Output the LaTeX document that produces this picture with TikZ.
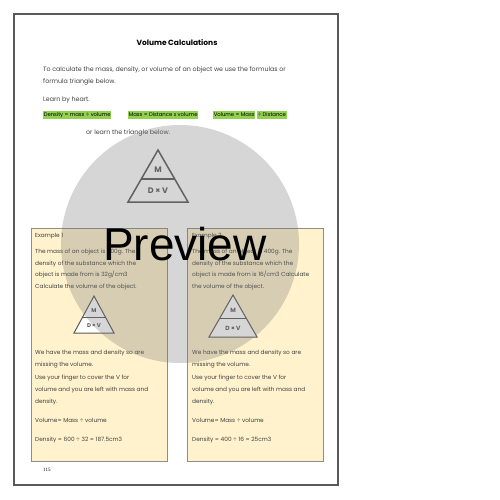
\documentclass[tikz,border=0pt]{standalone}
\usepackage{fontspec}
\setmainfont{Poppins}
\newfontfamily\prevfont{Liberation Sans}
\newfontfamily\pgnumfont{Liberation Serif}
\usetikzlibrary{calc}

\definecolor{framegray}{HTML}{595959}
\definecolor{txtgray}{HTML}{404040}
\definecolor{hlgreen}{HTML}{92D050}
\definecolor{panelfill}{HTML}{FFF2CC}
\definecolor{paneldraw}{HTML}{8C8C8C}
\definecolor{trigray}{HTML}{595959}
\definecolor{veilgray}{HTML}{787878}

\tikzset{
  bodytext/.style={anchor=base west, inner sep=0pt, text=txtgray,
    font=\fontsize{6.3}{7}\selectfont},
  boxtext/.style={bodytext, font=\fontsize{5.8}{7}\selectfont},
  hl/.style={bodytext, text=black, fill=hlgreen, inner xsep=0.6pt,
    inner ysep=0.6pt, text height=5pt, text depth=1.6pt,
    font=\fontsize{5.3}{6}\selectfont},
  panel/.style={draw=paneldraw, fill=panelfill, line width=0.8pt},
  tri/.style={draw=trigray, fill=white, line join=miter},
  trilabel/.style={inner sep=0pt, text=trigray, font=\fontsize{8}{9}\selectfont\bfseries},
}

\begin{document}
\begin{tikzpicture}[x=1pt,y=-1pt]
\useasboundingbox (0,0) rectangle (500,500);

% page
\draw[framegray, line width=1.2pt] (14,14) rectangle (338,485);

\node[bodytext, anchor=base, text=black, font=\fontsize{7.5}{9}\selectfont\bfseries] (title) at (177,46) {Volume Calculations};

\node[bodytext] (intro1) at (43,72) {To calculate the mass, density, or volume of an object we use the formulas or};
\node[bodytext] (intro2) at (43,84) {formula triangle below.};
\node[bodytext] (learn) at (43,102) {Learn by heart.};

% formulas
\node[hl] (f1) at (43,117) {Density = mass ÷ volume};
\node[hl] (f2) at (128,117) {Mass = Distance x volume};
\node[hl] (f3) at (213,117) {Volume = Mass};
\node[hl] (f4) at (257,117) {÷ Distance};

\node[bodytext] (orlearn) at (86,135) {or learn the triangle below.};

% big triangle
\coordinate (A0) at (158,150);
\coordinate (L0) at (128,202);
\coordinate (R0) at (188,202);
\draw[tri, line width=1.5pt] (A0) -- (L0) -- (R0) -- cycle;
\draw[trigray, line width=1.5pt] ($(A0)!0.56!(L0)$) -- ($(A0)!0.56!(R0)$);
\node[trilabel] (m0) at (158,170) {M};
\node[trilabel] (dv0) at (158,191) {D × V};

% example boxes
\draw[panel] (31,228) rectangle (167,461);
\draw[panel] (187,228) rectangle (323,461);

% box 1
\node[boxtext] (e1) at (35,237) {Example 1};
\node[boxtext] (e1a) at (35,253) {The mass of an object is 600g. The};
\node[boxtext] (e1b) at (35,265) {density of the substance which the};
\node[boxtext] (e1c) at (35,276) {object is made from is 32g/cm3};
\node[boxtext] (e1d) at (35,288) {Calculate the volume of the object.};

\coordinate (A1) at (94,296);
\coordinate (L1) at (74,333);
\coordinate (R1) at (114,333);
\draw[tri, line width=1pt] (A1) -- (L1) -- (R1) -- cycle;
\draw[trigray, line width=1pt] ($(A1)!0.59!(L1)$) -- ($(A1)!0.59!(R1)$);
\node[trilabel, font=\fontsize{5.5}{6}\selectfont\bfseries] (m1) at (94,311) {M};
\node[trilabel, font=\fontsize{5.5}{6}\selectfont\bfseries] (dv1) at (94,326) {D × V};

\node[boxtext] (e1e) at (35,354) {We have the mass and density so are};
\node[boxtext] (e1f) at (35,366) {missing the volume.};
\node[boxtext] (e1g) at (35,379) {Use your finger to cover the V for};
\node[boxtext] (e1h) at (35,391) {volume and you are left with mass and};
\node[boxtext] (e1i) at (35,403) {density.};
\node[boxtext] (e1j) at (35,422) {Volume= Mass ÷ volume};
\node[boxtext] (e1k) at (35,441) {Density = 600 ÷ 32 = 187.5cm3};

% box 2
\node[boxtext] (e2) at (192,237) {Example 2};
\node[boxtext] (e2a) at (192,253) {The mass of an object is 400g. The};
\node[boxtext] (e2b) at (192,265) {density of the substance which the};
\node[boxtext] (e2c) at (192,276) {object is made from is 16/cm3 Calculate};
\node[boxtext] (e2d) at (192,288) {the volume of the object.};

\coordinate (A2) at (233,295);
\coordinate (L2) at (209,337);
\coordinate (R2) at (257,337);
\draw[tri, line width=1pt] (A2) -- (L2) -- (R2) -- cycle;
\draw[trigray, line width=1pt] ($(A2)!0.55!(L2)$) -- ($(A2)!0.55!(R2)$);
\node[trilabel, font=\fontsize{6}{7}\selectfont\bfseries] (m2) at (233,310) {M};
\node[trilabel, font=\fontsize{6}{7}\selectfont\bfseries] (dv2) at (233,328) {D × V};

\node[boxtext] (e2e) at (192,354) {We have the mass and density so are};
\node[boxtext] (e2f) at (192,366) {missing the volume.};
\node[boxtext] (e2g) at (192,379) {Use your finger to cover the V for};
\node[boxtext] (e2h) at (192,391) {volume and you are left with mass and};
\node[boxtext] (e2i) at (192,403) {density.};
\node[boxtext] (e2j) at (192,422) {Volume= Mass ÷ volume};
\node[boxtext] (e2k) at (192,441) {Density = 400 ÷ 16 = 25cm3};

\node[bodytext, text=black, font=\pgnumfont\fontsize{5}{6}\selectfont] (pgnum) at (43,471) {115};

% preview veil
\fill[veilgray, opacity=0.3] (180,244) circle[radius=119];
\node[inner sep=0pt, anchor=base, font=\prevfont\fontsize{46}{50}\selectfont] (prev) at (185,260) {Preview};

\end{tikzpicture}
\end{document}
